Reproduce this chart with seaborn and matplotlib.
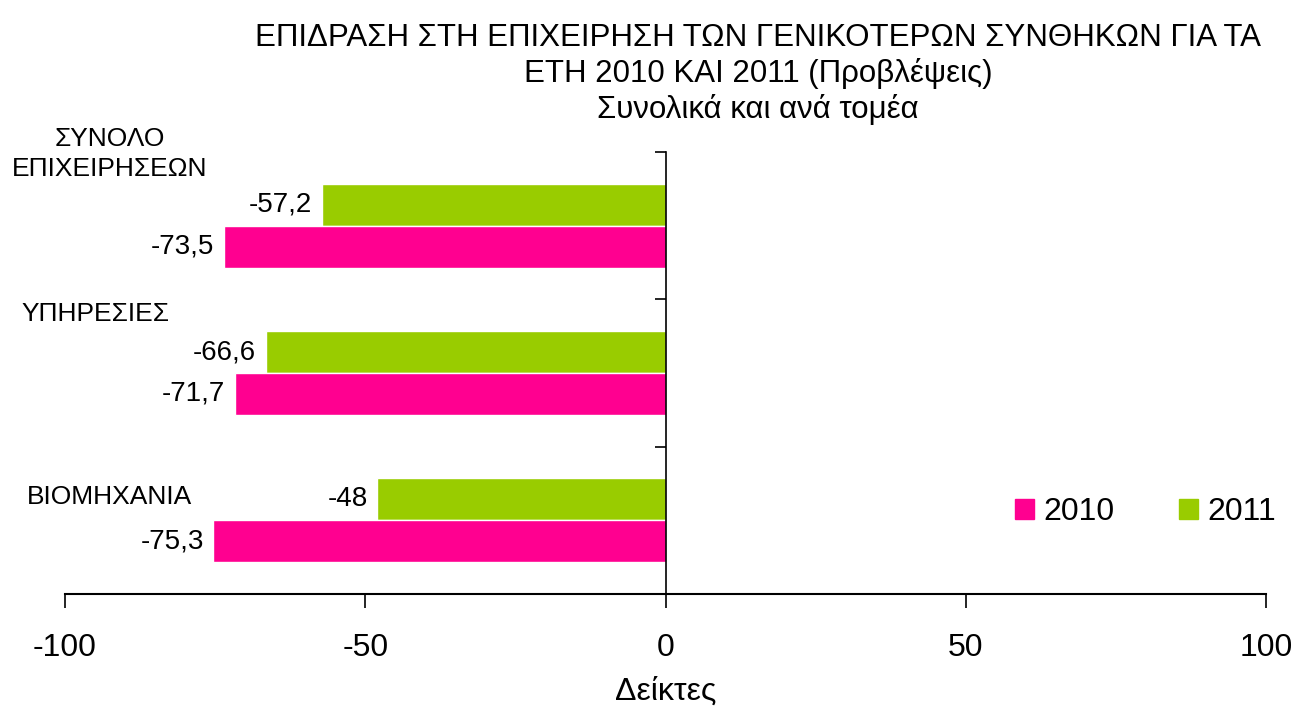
import pandas as pd
import numpy as np
import matplotlib
matplotlib.use("Agg")
import matplotlib.pyplot as plt
import seaborn as sns
from matplotlib.patches import Patch

# ── DATA ─────────────────────────────────────────────
sectors = ["ΣΥΝΟΛΟ\nΕΠΙΧΕΙΡΗΣΕΩΝ", "ΥΠΗΡΕΣΙΕΣ", "ΒΙΟΜΗΧΑΝΙΑ"]
values_2010 = [-73.5, -71.7, -75.3]
values_2011 = [-57.2, -66.6, -48.0]
years = ["2010", "2011"]
colors = {"2010": "#FF0090", "2011": "#99CC00"}

df = pd.DataFrame({
    "sector": sectors * 2,
    "year": ["2010"] * 3 + ["2011"] * 3,
    "value": values_2010 + values_2011,
})

# ── STYLE ────────────────────────────────────────────
sns.set_style("white")
plt.rcParams["font.family"] = ["Liberation Sans", "DejaVu Sans"]
plt.rcParams["text.color"] = "black"
plt.rcParams["xtick.color"] = "black"
plt.rcParams["axes.labelcolor"] = "black"

fig = plt.figure(figsize=(12.96, 7.09), dpi=100)
ax = fig.add_axes([0.0502, 0.1622, 0.9267, 0.6234])

sns.barplot(data=df, y="sector", x="value", hue="year", hue_order=["2011", "2010"],
            order=sectors, palette=colors, orient="h", width=0.57,
            saturation=1, legend=False, ax=ax)

ax.set_xlim(-100, 100)
ax.set_ylim(2.5, -0.5)
ax.set_xticks([-100, -50, 0, 50, 100])
ax.set_xticklabels(["-100", "-50", "0", "50", "100"], fontsize=23)
ax.tick_params(axis="x", direction="out", length=10, width=1.2, pad=18, bottom=True)

# y axis at zero
for s in ["top", "right"]:
    ax.spines[s].set_visible(False)
ax.spines["left"].set_position(("data", 0))
ax.spines["left"].set_linewidth(1.2)
ax.spines["bottom"].set_linewidth(1.5)
ax.spines["left"].set_color("black")
ax.spines["bottom"].set_color("black")
ax.set_yticks([-0.5, 0.5, 1.5, 2.5])
ax.set_yticklabels([])
ax.tick_params(axis="y", direction="out", length=8, width=1.2, left=True, colors="black")

ax.set_ylabel("")
ax.set_xlabel("Δείκτες", fontsize=23, labelpad=10)

# value labels
for cont in ax.containers:
    labels = [f"{v:g}".replace(".", ",") for v in cont.datavalues]
    ax.bar_label(cont, labels=labels, padding=7, fontsize=20)

# category labels (top-left of each band)
cat_pos = [(-92.5, -0.3), (-95, 0.68), (-92.6, 1.92)]
for name, (x, y) in zip(sectors, cat_pos):
    ax.text(x, y, name, ha="center", va="bottom", fontsize=19, linespacing=1.35)

# legend
handles = [Patch(color=colors[y], label=y) for y in years]
ax.legend(handles=handles, loc="center left", bbox_to_anchor=(0.767, 0.185),
          ncol=2, frameon=False, fontsize=23, handlelength=0.6, handleheight=0.6,
          handletextpad=0.3, columnspacing=2.0)

fig.suptitle("ΕΠΙΔΡΑΣΗ ΣΤΗ ΕΠΙΧΕΙΡΗΣΗ ΤΩΝ ΓΕΝΙΚΟΤΕΡΩΝ ΣΥΝΘΗΚΩΝ ΓΙΑ ΤΑ\n"
             "ΕΤΗ 2010 ΚΑΙ 2011 (Προβλέψεις)\nΣυνολικά και ανά τομέα",
             x=0.585, y=0.968, fontsize=22.5, linespacing=1.22)

plt.savefig("out.png", dpi=100)
